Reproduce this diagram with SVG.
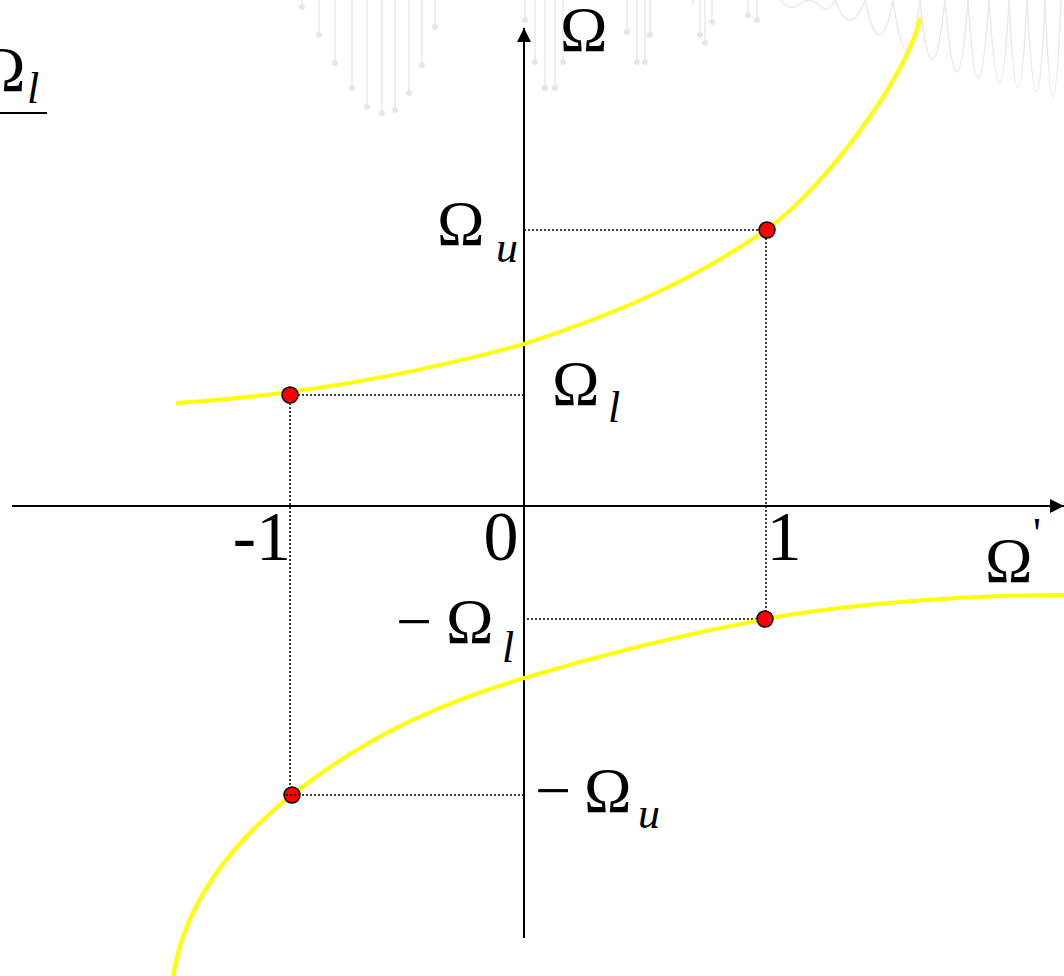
<svg xmlns="http://www.w3.org/2000/svg" width="1064" height="976" viewBox="0 0 1064 976">
<style>
.bg{stroke:#e9e9e9;stroke-width:1.5;fill:none}
.bgd{fill:#e6e6e6}
.ax{stroke:#000;stroke-width:2;fill:none}
.dot{stroke:#000;stroke-width:1.5;stroke-dasharray:2 2;fill:none}
.curve{stroke:#ffff00;stroke-width:4;fill:none}
.pt{fill:#ff0000;stroke:#000;stroke-width:1.5}
.big{font-family:"Liberation Serif","Times New Roman",serif;font-size:64px;fill:#000}
.num{font-family:"Liberation Serif","Times New Roman",serif;font-size:70px;fill:#000}
.sub{font-family:"Liberation Serif","Times New Roman",serif;font-style:italic;font-size:44px;fill:#000}
.prime{font-family:"Liberation Serif","Times New Roman",serif;font-size:44px;fill:#000}
</style>
<defs>
<marker id="arr" viewBox="0 0 14 14" refX="14" refY="7" markerWidth="14" markerHeight="14" markerUnits="userSpaceOnUse" orient="auto">
<path d="M0,0 L14,7 L0,14 z" fill="#000"/>
</marker>
</defs>
<rect width="1064" height="976" fill="#fff"/>
<g id="background">
<path class="bg" d="M302,0V7M319,0V35M335,0V63M352,0V88M367,0V107M382,0V113M395,0V110M409,0V93M422,0V65M435,0V27M525,0V20M535,0V62M545,0V88M555,0V88M563,0V62M627,0V32M637,0V62M645,0V62M650,0V35M693,0V5M700,0V35M705,0V45M712,0V22M748,0V15M757,0V20"/>
<g class="bgd">
<circle cx="302" cy="7" r="3"/><circle cx="319" cy="35" r="3"/><circle cx="335" cy="63" r="3"/><circle cx="352" cy="88" r="3"/><circle cx="367" cy="107" r="3"/><circle cx="382" cy="113" r="3"/><circle cx="395" cy="110" r="3"/><circle cx="409" cy="93" r="3"/><circle cx="422" cy="65" r="3"/><circle cx="435" cy="27" r="3"/><circle cx="525" cy="20" r="3"/><circle cx="535" cy="62" r="3"/><circle cx="545" cy="88" r="3"/><circle cx="555" cy="88" r="3"/><circle cx="563" cy="62" r="3"/><circle cx="627" cy="32" r="3"/><circle cx="637" cy="62" r="3"/><circle cx="645" cy="62" r="3"/><circle cx="650" cy="35" r="3"/><circle cx="700" cy="35" r="3"/><circle cx="705" cy="43" r="3"/><circle cx="712" cy="22" r="3"/><circle cx="748" cy="15" r="3"/><circle cx="757" cy="20" r="3"/>
</g>
<path class="bg" stroke-width="3.5" d="M780,0 Q790,12 800,4 Q810,-4 820,6 Q828,14 835,0 Q850,40 865,0 Q880,70 893,0 Q907,100 920,0 Q932,120 945,0 Q957,144 968,0 Q978,156 989,0 Q1000,166 1009,0 Q1018,176 1027,0 Q1037,184 1045,0 Q1053,194 1061,0"/>
</g>
<g id="connectors">
<line class="ax" x1="12" y1="506" x2="1064" y2="506" marker-end="url(#arr)"/>
<line class="ax" x1="524" y1="938" x2="524" y2="28" marker-end="url(#arr)"/>
<path class="dot" d="M290,395H524M290,395V795M766,230H524M766,230V619M765,619H524"/>
</g>
<g id="curves">
<path class="curve" d="M176,403 C292,396 408,376 524,344 C605,317 686,286 767,229 C825,188 908,75 920,18"/>
<path class="curve" d="M173,976 C185,900 235,840 293,794 C370,733 450,700 524,678 C600,655 690,633 765,619 C840,605 960,595 1064,595"/>
</g>
<g id="points">
<circle class="pt" cx="290" cy="395" r="8"/>
<circle class="pt" cx="767" cy="230" r="8"/>
<circle class="pt" cx="765" cy="619" r="8"/>
<circle class="pt" cx="292" cy="795" r="8"/>
</g>
<path class="dot" d="M286,795H524"/>
<g id="labels">
<text class="big" x="-22" y="91">Ω</text>
<text class="sub" x="27" y="103">l</text>
<line x1="0" y1="113" x2="47" y2="113" stroke="#000" stroke-width="2"/>
<text class="big" x="560" y="51">Ω</text>
<text class="big" x="437" y="245">Ω</text>
<text class="sub" x="496" y="262">u</text>
<text class="big" x="552" y="405">Ω</text>
<text class="sub" x="608" y="422">l</text>
<text class="num" x="291" y="560" text-anchor="end">-1</text>
<text class="num" x="501" y="560" text-anchor="middle">0</text>
<text class="num" x="784" y="560" text-anchor="middle">1</text>
<text class="big" x="985" y="582">Ω</text>
<text class="prime" x="1033" y="548">'</text>
<text class="big" x="396" y="643">−</text>
<text class="big" x="446" y="643">Ω</text>
<text class="sub" x="502" y="662">l</text>
<text class="big" x="535" y="812">−</text>
<text class="big" x="584" y="812">Ω</text>
<text class="sub" x="638" y="828">u</text>
</g>
</svg>
